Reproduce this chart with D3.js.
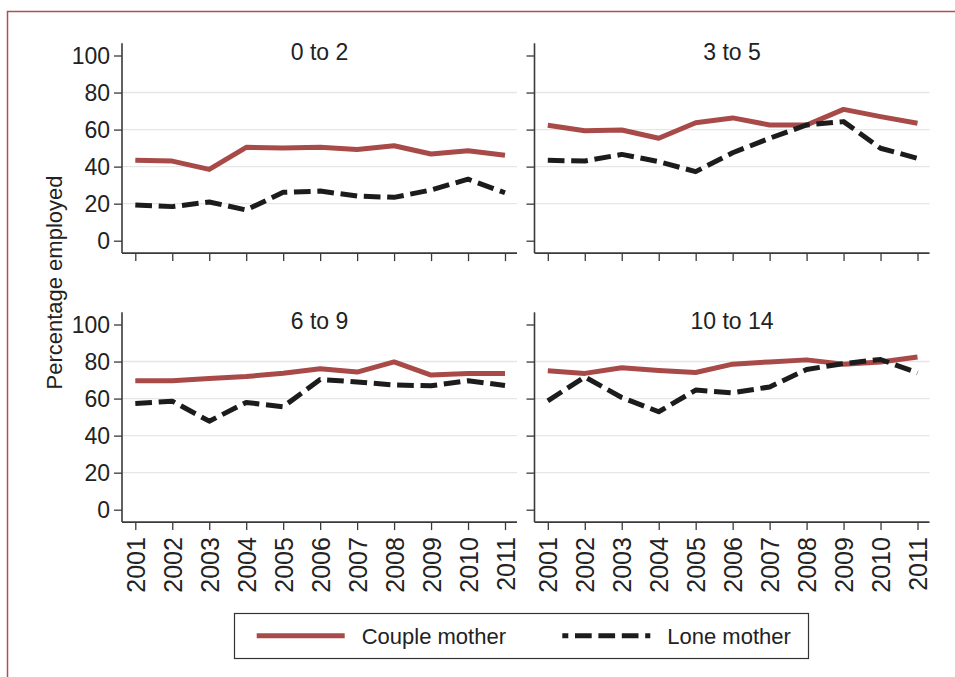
<!DOCTYPE html>
<html>
<head>
<meta charset="utf-8">
<script src="https://cdn.jsdelivr.net/npm/d3@7"></script>
<style>
  html, body { margin: 0; padding: 0; background: #fff; }
  svg { display: block; }
</style>
</head>
<body>
<svg id="chart" width="955" height="677"></svg>
<script>
// ---- data ----
const years = [2001, 2002, 2003, 2004, 2005, 2006, 2007, 2008, 2009, 2010, 2011];
const panelTitles = ["0 to 2", "3 to 5", "6 to 9", "10 to 14"];
const coupleMother = [
  [43.4, 43.0, 38.5, 50.4, 50.0, 50.4, 49.2, 51.3, 46.8, 48.6, 46.1],
  [62.3, 59.4, 59.8, 55.3, 63.7, 66.3, 62.5, 62.5, 70.9, 67.0, 63.4],
  [69.6, 69.6, 70.9, 71.9, 73.7, 76.1, 74.3, 79.8, 72.7, 73.6, 73.6],
  [75.0, 73.6, 76.6, 75.2, 74.1, 78.6, 79.8, 80.9, 78.6, 79.8, 82.5]
];
const loneMother = [
  [19.3, 18.4, 20.9, 16.6, 26.1, 26.8, 24.1, 23.4, 27.4, 33.2, 25.9],
  [43.4, 43.0, 46.6, 42.7, 37.3, 47.5, 55.3, 62.5, 64.3, 49.9, 44.5],
  [57.4, 58.6, 47.8, 57.9, 55.6, 70.3, 69.0, 67.3, 66.9, 69.6, 67.1],
  [58.8, 71.7, 60.6, 52.9, 64.6, 63.1, 66.3, 75.7, 78.9, 81.1, 73.9]
];
const yTicks = [0, 20, 40, 60, 80, 100];
const gridTicks = [20, 40, 60, 80];
const seriesNames = ["Couple mother", "Lone mother"];
const yLabel = "Percentage employed";

// ---- style ----
const RED = "#a84a48", BLACK = "#1c1c1c", AXIS = "#3a3a3a", GRID = "#e6e6e6";
const TXT = "Liberation Sans, Arial, sans-serif";
const NARROW = "'Liberation Sans Narrow', 'Arial Narrow', 'Liberation Sans', sans-serif";

const svg = d3.select("#chart");

// outer frame
svg.append("rect").attr("x", 7.5).attr("y", 11.5).attr("width", 1000).attr("height", 700)
  .attr("fill", "none").attr("stroke", "#b34e4c").attr("stroke-width", 1.5);

const panelLeft = [122, 534.5];
const panelTop = [43.3, 312.3];
const plotW = 395;
const plotPadTop = 12.2, plotH = 185.2, plotPadBot = 12.4;

panelTitles.forEach((title, i) => {
  const col = i % 2, row = Math.floor(i / 2);
  const x0 = panelLeft[col], top = panelTop[row];
  const y100 = top + plotPadTop, y0 = y100 + plotH, bottom = y0 + plotPadBot;

  const x = d3.scalePoint().domain(years).range([x0 + 13.3, x0 + plotW - 12]);
  const y = d3.scaleLinear().domain([0, 100]).range([y0, y100]);

  const g = svg.append("g");

  // gridlines
  g.selectAll(".grid").data(gridTicks).enter().append("line")
    .attr("x1", x0).attr("x2", x0 + plotW)
    .attr("y1", d => y(d)).attr("y2", d => y(d))
    .attr("stroke", GRID).attr("stroke-width", 1.4);

  // y axis
  const yAxis = d3.axisLeft(y).tickValues(yTicks).tickSize(8).tickPadding(4).tickFormat(d3.format("d"));
  const ya = g.append("g").attr("transform", `translate(${x0},0)`).call(yAxis);
  ya.select(".domain").remove();
  ya.selectAll(".tick line").attr("stroke", AXIS).attr("stroke-width", 1.3);
  if (col === 0) {
    ya.selectAll(".tick text").attr("font-family", TXT).attr("font-size", 23)
      .attr("fill", "#222").attr("dy", "0.36em");
  } else {
    ya.selectAll(".tick text").remove();
  }
  g.append("line").attr("x1", x0).attr("x2", x0).attr("y1", top).attr("y2", bottom)
    .attr("stroke", AXIS).attr("stroke-width", 1.6);

  // x axis
  const xAxis = d3.axisBottom(x).tickSize(8).tickPadding(6);
  const xa = g.append("g").attr("transform", `translate(0,${bottom})`).call(xAxis);
  xa.select(".domain").remove();
  xa.selectAll(".tick line").attr("stroke", AXIS).attr("stroke-width", 1.3);
  if (row === 1) {
    xa.selectAll(".tick text")
      .attr("font-family", NARROW).attr("font-size", 25).attr("fill", "#222")
      .attr("transform", "rotate(-90)")
      .attr("text-anchor", "end")
      .attr("x", -15).attr("y", 0).attr("dy", "0.36em");
  } else {
    xa.selectAll(".tick text").remove();
  }
  g.append("line").attr("x1", x0).attr("x2", x0 + plotW).attr("y1", bottom).attr("y2", bottom)
    .attr("stroke", AXIS).attr("stroke-width", 1.6);

  // title
  g.append("text").attr("x", x0 + plotW / 2).attr("y", top + 17)
    .attr("text-anchor", "middle").attr("font-family", TXT).attr("font-size", 23)
    .attr("fill", "#222").text(title);

  const line = d3.line().x((d, k) => x(years[k])).y(d => y(d));

  g.append("path").datum(coupleMother[i]).attr("d", line)
    .attr("fill", "none").attr("stroke", RED).attr("stroke-width", 5)
    .attr("stroke-linejoin", "round");
  g.append("path").datum(loneMother[i]).attr("d", line)
    .attr("fill", "none").attr("stroke", BLACK).attr("stroke-width", 5)
    .attr("stroke-dasharray", "16.7,6.7").attr("stroke-linejoin", "round");
});

// y label
svg.append("text").attr("transform", "translate(62,282.5) rotate(-90)")
  .attr("text-anchor", "middle").attr("font-family", TXT).attr("font-size", 22)
  .attr("fill", "#222").text(yLabel);

// legend
const lg = svg.append("g");
lg.append("rect").attr("x", 234.5).attr("y", 613.5).attr("width", 574).attr("height", 45)
  .attr("fill", "#fff").attr("stroke", "#333").attr("stroke-width", 1.2);
const legendItems = [
  { name: seriesNames[0], x: 256.7, color: RED, dash: null },
  { name: seriesNames[1], x: 562.3, color: BLACK, dash: "16.7,6.7" }
];
legendItems.forEach(it => {
  const l = lg.append("line").attr("x1", it.x).attr("x2", it.x + 88)
    .attr("y1", 635.7).attr("y2", 635.7)
    .attr("stroke", it.color).attr("stroke-width", 5);
  if (it.dash) l.attr("stroke-dasharray", it.dash).attr("stroke-dashoffset", 10.7);
  lg.append("text").attr("x", it.x + 105).attr("y", 644)
    .attr("font-family", TXT).attr("font-size", 22).attr("fill", "#222").text(it.name);
});
</script>
</body>
</html>
